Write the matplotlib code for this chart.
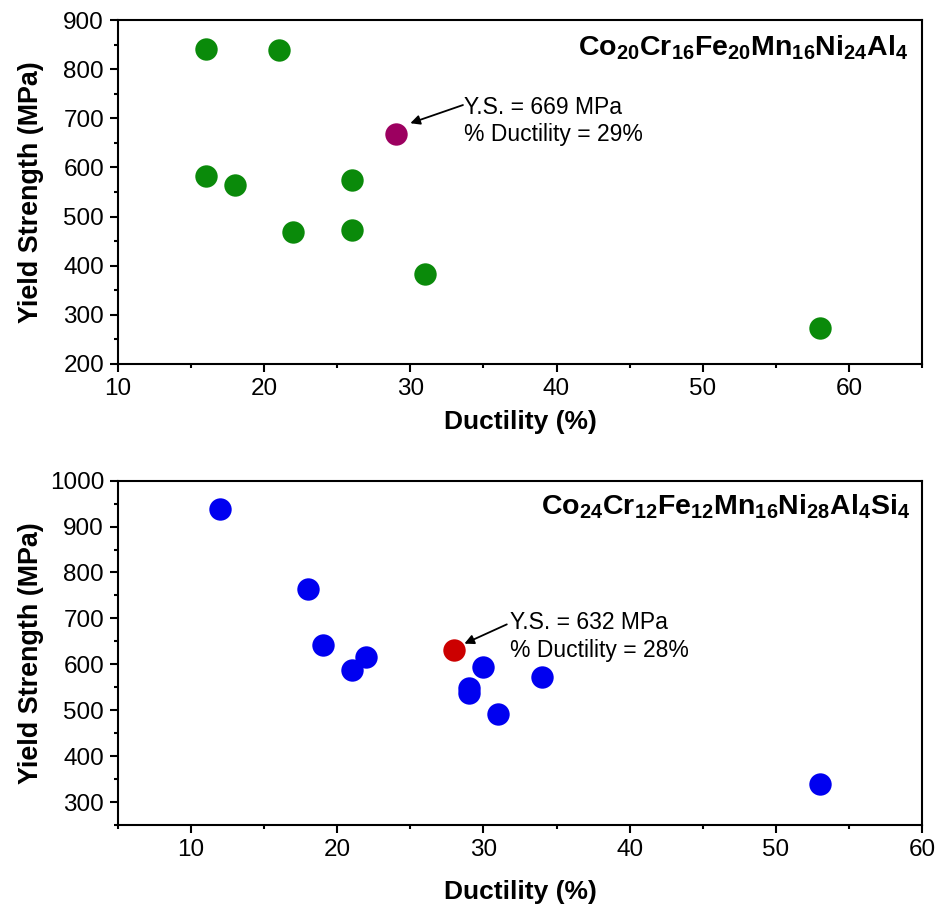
import matplotlib
matplotlib.use("Agg")
import matplotlib.pyplot as plt
from matplotlib.ticker import MultipleLocator

# Top panel: Co20Cr16Fe20Mn16Ni24Al4
top_duct = [16, 21, 16, 18, 26, 22, 26, 31, 58]
top_ys = [842, 839, 582, 565, 575, 469, 472, 384, 274]
top_best = (29, 669)
top_title = r'$\mathbf{Co_{20}Cr_{16}Fe_{20}Mn_{16}Ni_{24}Al_{4}}$'

# Bottom panel: Co24Cr12Fe12Mn16Ni28Al4Si4
bot_duct = [12, 18, 19, 21, 22, 29, 29, 30, 34, 31, 53]
bot_ys = [938, 765, 642, 587, 616, 548, 538, 594, 573, 491, 340]
bot_best = (28, 632)
bot_title = r'$\mathbf{Co_{24}Cr_{12}Fe_{12}Mn_{16}Ni_{28}Al_{4}Si_{4}}$'

green = '#0a8a0a'
purple = '#9c0060'
blue = '#0000f0'
red = '#cc0000'

plt.rcParams['font.family'] = 'Liberation Sans'
plt.rcParams['mathtext.fontset'] = 'custom'
plt.rcParams['mathtext.rm'] = 'Liberation Sans'
plt.rcParams['mathtext.bf'] = 'Liberation Sans:bold'

fig = plt.figure(figsize=(9.4, 9.1), dpi=100)
ax1 = fig.add_axes([0.1255, 0.600, 0.8553, 0.378])
ax2 = fig.add_axes([0.1255, 0.0934, 0.8553, 0.3784])


def style(ax, xlim, ylim, xlab_y):
    ax.set_xlim(*xlim)
    ax.set_ylim(*ylim)
    ax.xaxis.set_major_locator(MultipleLocator(10))
    ax.xaxis.set_minor_locator(MultipleLocator(5))
    ax.yaxis.set_major_locator(MultipleLocator(100))
    ax.yaxis.set_minor_locator(MultipleLocator(50))
    for s in ax.spines.values():
        s.set_linewidth(1.5)
    ax.tick_params(which='both', direction='out', top=False, right=False, width=1.5)
    ax.tick_params(which='major', length=6, labelsize=17.5)
    ax.tick_params(axis='x', which='major', pad=4)
    ax.tick_params(axis='y', which='major', pad=4)
    ax.tick_params(which='minor', length=3)
    ax.set_xlabel('Ductility (%)', fontsize=19, fontweight='bold')
    ax.set_ylabel('Yield Strength (MPa)', fontsize=19.4, fontweight='bold')
    ax.yaxis.set_label_coords(-0.092, 0.5)
    ax.xaxis.set_label_coords(0.5, xlab_y)


# top
ax1.scatter(top_duct, top_ys, s=260, color=green, linewidths=0, zorder=3)
ax1.scatter([top_best[0]], [top_best[1]], s=260, color=purple, linewidths=0, zorder=3)
style(ax1, (10, 65), (200, 900), -0.135)
ax1.text(0.983, 0.919, top_title, transform=ax1.transAxes, ha='right', va='center', fontsize=20.5)
ax1.annotate('', xy=(30.0, 690), xytext=(33.6, 727),
             arrowprops=dict(arrowstyle='-|>', color='black', lw=1.3, mutation_scale=14, shrinkA=0, shrinkB=0))
ax1.text(33.7, 694, 'Y.S. = %d MPa\n%% Ductility = %d%%' % (top_best[1], top_best[0]),
         ha='left', va='center', fontsize=16.5, linespacing=1.25)

# bottom
ax2.scatter(bot_duct, bot_ys, s=260, color=blue, linewidths=0, zorder=3)
ax2.scatter([bot_best[0]], [bot_best[1]], s=260, color=red, linewidths=0, zorder=3)
style(ax2, (5, 60), (250, 1000), -0.160)
ax2.text(0.985, 0.924, bot_title, transform=ax2.transAxes, ha='right', va='center', fontsize=20.5)
ax2.annotate('', xy=(28.7, 645), xytext=(31.6, 687),
             arrowprops=dict(arrowstyle='-|>', color='black', lw=1.3, mutation_scale=14, shrinkA=0, shrinkB=0))
ax2.text(31.8, 661, 'Y.S. = %d MPa\n%% Ductility = %d%%' % (bot_best[1], bot_best[0]),
         ha='left', va='center', fontsize=16.5, linespacing=1.25)

fig.savefig('out.png', dpi=100)
